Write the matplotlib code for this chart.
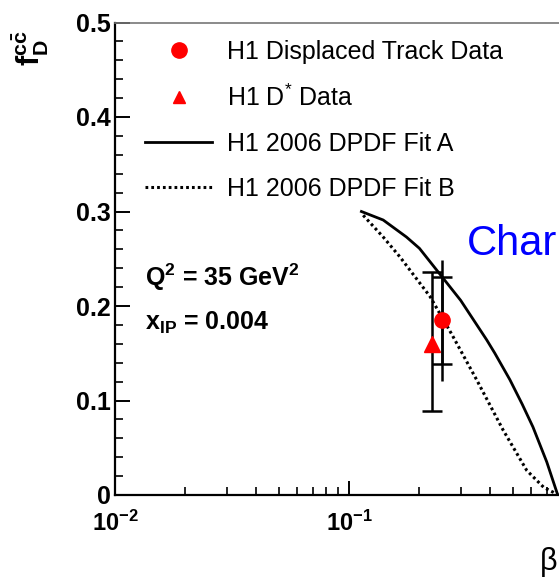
import matplotlib
matplotlib.use("Agg")
import matplotlib.pyplot as plt
from matplotlib.lines import Line2D
from matplotlib.ticker import MultipleLocator, LogLocator, NullFormatter, FixedLocator

plt.rcParams['font.family'] = ['Liberation Sans', 'DejaVu Sans']
plt.rcParams['mathtext.fontset'] = 'custom'
plt.rcParams['mathtext.rm'] = 'Liberation Sans'
plt.rcParams['mathtext.it'] = 'Liberation Sans'
plt.rcParams['mathtext.bf'] = 'Liberation Sans:bold'

# H1 2006 DPDF fits
beta_fitA = [0.113, 0.14, 0.176, 0.20, 0.237, 0.30, 0.388, 0.42, 0.487, 0.55, 0.611, 0.70, 0.78]
f_fitA = [0.300, 0.291, 0.273, 0.261, 0.238, 0.206, 0.164, 0.150, 0.122, 0.096, 0.072, 0.035, 0.0]
beta_fitB = [0.115, 0.14, 0.165, 0.222, 0.275, 0.351, 0.455, 0.575, 0.68, 0.745, 0.78]
f_fitB = [0.296, 0.273, 0.252, 0.210, 0.170, 0.122, 0.069, 0.026, 0.008, 0.003, 0.0]

# data points
beta_disp = [0.249]
f_disp = [0.185]
disp_stat = [0.046]
disp_tot_lo = [0.064]
disp_tot_hi = [0.064]

beta_dstar = [0.2256]
f_dstar = [0.160]
dstar_lo = [0.071]
dstar_hi = [0.076]

fig = plt.figure(figsize=(5.59, 5.81), dpi=100)
ax = fig.add_axes([115 / 559, 1 - 495 / 581, 468 / 559, 472.5 / 581])
ax.set_xscale('log')
ax.set_xlim(0.01, 1)
ax.set_ylim(0, 0.5)

ax.plot(beta_fitA, f_fitA, color='black', lw=2)
ax.plot(beta_fitB, f_fitB, color='black', lw=2.2, linestyle=(0, (0.9, 1.0)))

# displaced track: total error (no caps) + stat error (caps)
ax.errorbar(beta_disp, f_disp, yerr=[disp_tot_lo, disp_tot_hi], fmt='none',
            ecolor='black', elinewidth=1.8, capsize=0)
ax.errorbar(beta_disp, f_disp, yerr=[disp_stat, disp_stat], fmt='none',
            ecolor='black', elinewidth=1.8, capsize=7.5, capthick=1.8)
ax.plot(beta_disp, f_disp, 'o', color='red', ms=11, zorder=5)

ax.errorbar(beta_dstar, f_dstar, yerr=[dstar_lo, dstar_hi], fmt='none',
            ecolor='black', elinewidth=1.8, capsize=7.5, capthick=1.8)
ax.plot(beta_dstar, f_dstar, '^', color='red', ms=11, zorder=5)

# axes style
for s in ['left', 'bottom']:
    ax.spines[s].set_linewidth(1.6)
ax.spines['top'].set_color('#777777')
ax.spines['top'].set_linewidth(1.2)
ax.yaxis.set_major_locator(MultipleLocator(0.1))
ax.yaxis.set_minor_locator(MultipleLocator(0.02))
ax.xaxis.set_major_locator(FixedLocator([0.01, 0.1, 1]))
ax.xaxis.set_minor_locator(LogLocator(base=10, subs=range(2, 10)))
ax.xaxis.set_minor_formatter(NullFormatter())
ax.set_yticks([0, 0.1, 0.2, 0.3, 0.4, 0.5])
ax.set_yticklabels(['0', '0.1', '0.2', '0.3', '0.4', '0.5'])
ax.set_xticklabels([r'$\mathbf{10^{-2}}$', r'$\mathbf{10^{-1}}$', ''])
ax.tick_params(axis='y', which='major', direction='in', length=11, width=1.4,
               labelsize=18, pad=3, right=False)
ax.tick_params(axis='y', which='minor', direction='in', length=6, width=1.2, right=False)
ax.tick_params(axis='x', which='major', direction='in', length=10, width=1.4,
               labelsize=17, pad=11, top=False)
ax.tick_params(axis='x', which='minor', direction='in', length=5.5, width=1.2, top=False)
for lab in ax.get_yticklabels():
    lab.set_fontweight('bold')

# legend
handles = [
    Line2D([], [], marker='o', color='red', ls='none', ms=11),
    Line2D([], [], marker='^', color='red', ls='none', ms=9),
    Line2D([], [], color='black', lw=2),
    Line2D([], [], color='black', lw=2.2, ls=(0, (0.9, 1.0))),
]
labels = ['H1 Displaced Track Data', r'H1 D$^{*}$ Data',
          'H1 2006 DPDF Fit A', 'H1 2006 DPDF Fit B']
fig.legend(handles, labels, loc='upper left',
           bbox_to_anchor=(145 / 559, 1 - 40 / 581), frameon=False,
           fontsize=18, handlelength=2.68, handletextpad=0.6,
           labelspacing=0.83, borderpad=0, borderaxespad=0)

fig.text(145 / 559, 1 - 286 / 581, r'$\mathbf{Q^2}$ = 35 GeV$^{\mathbf{2}}$',
         fontsize=18, fontweight='bold', ha='left', va='baseline')
fig.text(145 / 559, 1 - 330 / 581, r'$\mathbf{x_{IP}}$ = 0.004',
         fontsize=18, fontweight='bold', ha='left', va='baseline')

fig.text(30 / 559, 1 - 48 / 581, r'$\mathbf{f}_{\mathbf{D}}^{\mathbf{c\bar{c}}}$',
         fontsize=22, rotation=90, ha='center', va='center')
fig.text(557 / 559, 1 - 570 / 581, 'β', fontsize=22,
         ha='right', va='baseline')
fig.text(467 / 559, 1 - 255 / 581, 'Char', fontsize=30, color='blue',
         ha='left', va='baseline')

fig.savefig('out.png', dpi=100)
